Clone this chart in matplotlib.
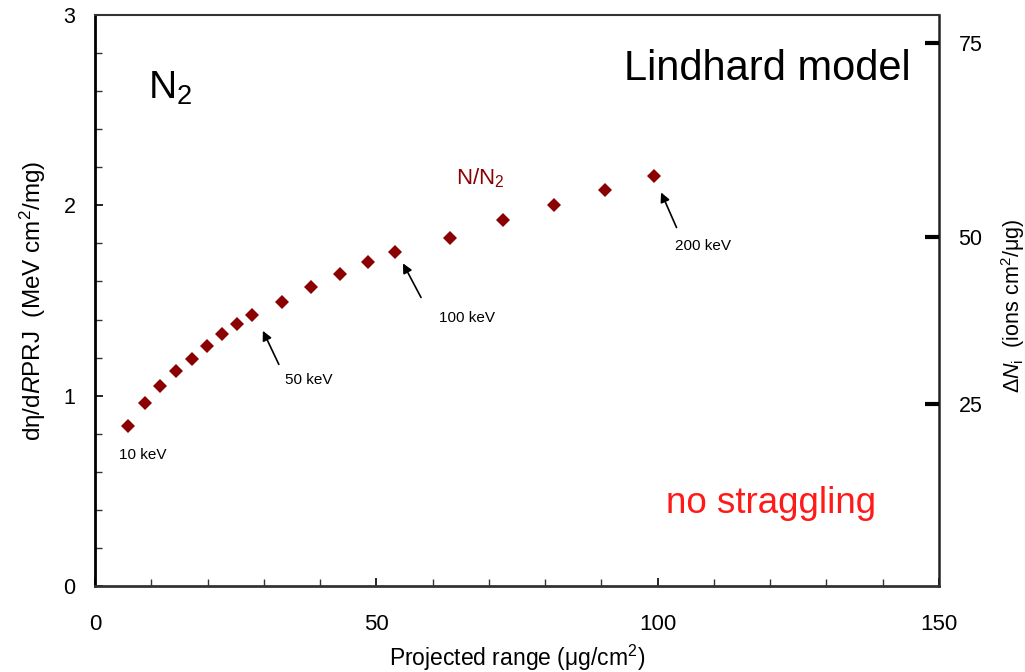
import matplotlib
matplotlib.use("Agg")
import matplotlib.pyplot as plt
from matplotlib.ticker import MultipleLocator, FixedLocator

plt.rcParams['font.family'] = ['Liberation Sans', 'DejaVu Sans']
plt.rcParams['mathtext.fontset'] = 'custom'
plt.rcParams['mathtext.rm'] = 'Liberation Sans'
plt.rcParams['mathtext.it'] = 'Liberation Sans:italic'

# Data
energies_keV = [10, 15, 20, 25, 30, 35, 40, 45, 50, 60, 70, 80, 90, 100, 120, 140, 160, 180, 200]
proj_range = [5.92, 8.83, 11.55, 14.45, 17.18, 19.85, 22.57, 25.24, 27.95,
              33.18, 38.39, 43.59, 48.57, 53.37, 63.14, 72.56, 81.62, 90.63, 99.40]
deta_dR = [0.842, 0.960, 1.052, 1.130, 1.193, 1.261, 1.326, 1.375, 1.422,
           1.491, 1.571, 1.638, 1.701, 1.753, 1.828, 1.921, 2.000, 2.081, 2.154]
right_tick_labels = ['25', '50', '75']
right_tick_pos = [0.957, 1.834, 2.853]
x_ticks = [0, 50, 100, 150]
y_ticks = [0, 1, 2, 3]

marker_color = '#8B0000'
narrow = ['Liberation Sans Narrow', 'Liberation Sans', 'DejaVu Sans']

fig = plt.figure(figsize=(10.25, 6.72), dpi=100)
ax = fig.add_axes([0.0927, 0.128, 0.8234, 0.8497])

ax.plot(proj_range, deta_dR, linestyle='none', marker='D', markersize=7,
        color=marker_color, markeredgewidth=0)

ax.set_xlim(0, 150)
ax.set_ylim(0, 3)
ax.xaxis.set_major_locator(FixedLocator(x_ticks))
ax.xaxis.set_minor_locator(MultipleLocator(10))
ax.yaxis.set_major_locator(FixedLocator(y_ticks))
ax.yaxis.set_minor_locator(MultipleLocator(0.2))
ax.tick_params(axis='both', which='major', direction='in', length=6, width=1.2, colors='black')
ax.tick_params(axis='both', which='minor', direction='in', length=5, width=1.0, colors='#333333')
ax.tick_params(axis='y', which='major', labelsize=15.5, pad=14)
ax.tick_params(axis='x', which='major', labelsize=16, pad=20)
for lbl in ax.get_xticklabels():
    lbl.set_family(narrow)

ax.spines['left'].set_linewidth(2.0)
ax.spines['left'].set_color('black')
ax.spines['bottom'].set_linewidth(2.0)
ax.spines['bottom'].set_color('#333333')
ax.spines['top'].set_linewidth(1.5)
ax.spines['top'].set_color('#333333')
ax.spines['right'].set_linewidth(1.8)
ax.spines['right'].set_color('#222222')

ax.set_xlabel('Projected range (μg/cm$^2$)', fontsize=16.5, family=narrow)
ax.xaxis.set_label_coords(0.5, -0.100)
ax.set_ylabel('dη/d$\\mathit{R}$PRJ  (MeV cm$^2$/mg)', fontsize=17.5)
ax.yaxis.set_label_coords(-0.056, 0.5)

# right axis
ax2 = ax.twinx()
ax2.set_ylim(0, 3)
ax2.yaxis.set_major_locator(FixedLocator(right_tick_pos))
ax2.set_yticklabels(right_tick_labels)
ax2.tick_params(axis='y', direction='in', length=10, width=3, labelsize=15.5, pad=14)
ax2.yaxis.set_minor_locator(FixedLocator([]))
for s in ax2.spines.values():
    s.set_visible(False)
ax2.set_ylabel('Δ$\\mathit{N}_{\\rm i}$  (ions cm$^2$/μg)', fontsize=15.5)
ax2.yaxis.set_label_coords(1.071, 0.49)

# annotations
ax.text(8.5, 0.688, '10 keV', fontsize=11, ha='center', va='center')
arrow_kw = dict(arrowstyle='-|>', color='black', lw=1.2, mutation_scale=14)
ax.annotate('', xy=(29.62, 1.354), xytext=(32.88, 1.151), arrowprops=arrow_kw)
ax.text(37.9, 1.082, '50 keV', fontsize=11, ha='center', va='center')
ax.annotate('', xy=(54.5, 1.708), xytext=(58.17, 1.503), arrowprops=arrow_kw)
ax.text(66.1, 1.408, '100 keV', fontsize=11, ha='center', va='center')
ax.annotate('', xy=(100.41, 2.081), xytext=(103.55, 1.870), arrowprops=arrow_kw)
ax.text(108.05, 1.786, '200 keV', fontsize=11, ha='center', va='center')

ax.text(68.5, 2.14, 'N/N$_2$', fontsize=16, color=marker_color, ha='center', va='center')
ax.text(0.089, 0.872, 'N$_2$', fontsize=28, ha='center', va='center', transform=ax.transAxes)
ax.text(0.966, 0.905, 'Lindhard model', fontsize=30, ha='right', va='center', transform=ax.transAxes)
ax.text(0.925, 0.145, 'no straggling', fontsize=26.5, color='#FF1A1A', ha='right', va='center', transform=ax.transAxes)

fig.savefig('out.png', dpi=100)
